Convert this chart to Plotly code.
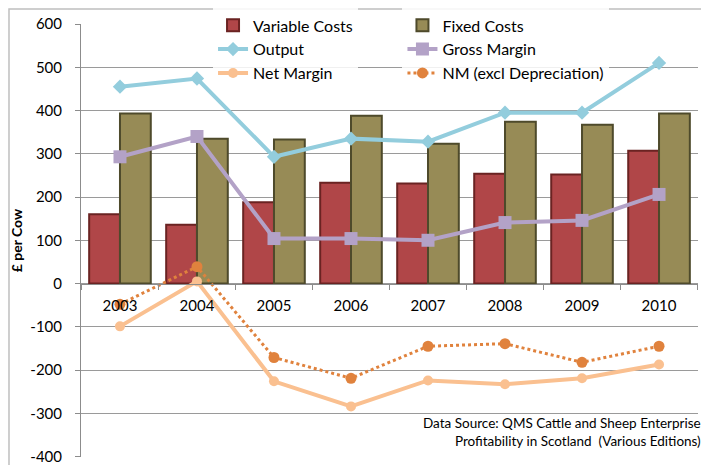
import plotly.graph_objects as go

# Suckler cow enterprise, £ per cow
years = ["2003", "2004", "2005", "2006", "2007", "2008", "2009", "2010"]
variable_costs = [160, 136, 188, 233, 231, 254, 252, 307]
fixed_costs = [393, 335, 333, 388, 323, 374, 367, 393]
output = [455, 474, 293, 335, 328, 395, 395, 510]
gross_margin = [293, 340, 104, 104, 100, 141, 146, 206]
net_margin = [-99, 5, -226, -284, -224, -233, -219, -187]
nm_excl_dep = [-48, 39, -171, -219, -145, -139, -182, -145]

y_ticks = [-400, -300, -200, -100, 0, 100, 200, 300, 400, 500, 600]
y_tick_text = ["-400", "-300", "-200", "-100", "0", "100", "200", "300", "400", "500", "600"]

FONT = "Lato"

fig = go.Figure()

fig.add_trace(go.Bar(
    x=years, y=variable_costs, name="Variable Costs", legend="legend",
    marker=dict(color="#B04648", line=dict(color="#6A2322", width=2)),
))
fig.add_trace(go.Bar(
    x=years, y=fixed_costs, name="Fixed Costs", legend="legend2",
    marker=dict(color="#978B56", line=dict(color="#4E4A2B", width=2)),
))
fig.add_trace(go.Scatter(
    x=years, y=output, name="Output", legend="legend", mode="lines+markers",
    line=dict(color="#93CDDD", width=4),
    marker=dict(symbol="diamond", size=11, color="#93CDDD"),
))
fig.add_trace(go.Scatter(
    x=years, y=gross_margin, name="Gross Margin", legend="legend2", mode="lines+markers",
    line=dict(color="#B3A2C7", width=4),
    marker=dict(symbol="square", size=13, color="#B3A2C7"),
))
fig.add_trace(go.Scatter(
    x=years, y=net_margin, name="Net Margin", legend="legend", mode="lines+markers",
    line=dict(color="#FAC090", width=4),
    marker=dict(symbol="circle", size=10, color="#FAC090"),
))
fig.add_trace(go.Scatter(
    x=years, y=nm_excl_dep, name="NM (excl Depreciation)", legend="legend2", mode="lines+markers",
    line=dict(color="#E0823D", width=3, dash="dot"),
    marker=dict(symbol="circle", size=11, color="#E0823D"),
))

legend_style = dict(
    bgcolor="rgba(255,255,255,0.85)", font=dict(family=FONT, size=16, color="#000"),
    yanchor="top", y=1.036, tracegroupgap=0, orientation="v",
)

# outer chart frame
fig.add_shape(type="rect", xref="paper", yref="paper",
              x0=-0.1167, x1=1.05, y0=-0.05, y1=1.0346,
              line=dict(color="#BFBFBF", width=1.5), layer="below")

fig.add_annotation(
    xref="paper", yref="paper", x=1.008, y=0.058, xanchor="right", yanchor="middle",
    align="right", showarrow=False,
    text="Data Source: QMS Cattle and Sheep Enterprise<br>Profitability in Scotland  (Various Editions)",
    font=dict(family=FONT, size=13.5, color="#000"),
)

fig.update_layout(
    width=701, height=457,
    margin=dict(l=73, r=11, t=16, b=8, autoexpand=False),
    paper_bgcolor="white", plot_bgcolor="white",
    font=dict(family=FONT, size=15, color="#000"),
    barmode="group", bargap=0.2, bargroupgap=0,
    legend=dict(x=0.214, xanchor="left", **legend_style),
    legend2=dict(x=0.521, xanchor="left", **legend_style),
    xaxis=dict(
        anchor="free", position=0.4, showline=True, linecolor="#8C8C8C", linewidth=1,
        ticks="outside", tickson="boundaries", ticklen=5, tickcolor="#8C8C8C",
        showgrid=False, ticklabelstandoff=8, tickfont=dict(family=FONT, size=15),
    ),
    yaxis=dict(
        range=[-401, 600], tickvals=y_ticks, ticktext=y_tick_text,
        showgrid=True, gridcolor="#9A9A9A", gridwidth=1,
        zeroline=False, showline=True, linecolor="#8C8C8C", linewidth=1,
        ticks="outside", ticklen=5, tickcolor="#8C8C8C", ticklabelstandoff=10,
        ticklabeloverflow="allow", tickfont=dict(family=FONT, size=15),
        title=dict(text="<b>£ per Cow</b>", font=dict(family=FONT, size=14), standoff=12),
    ),
)

fig.write_html("out.html")
